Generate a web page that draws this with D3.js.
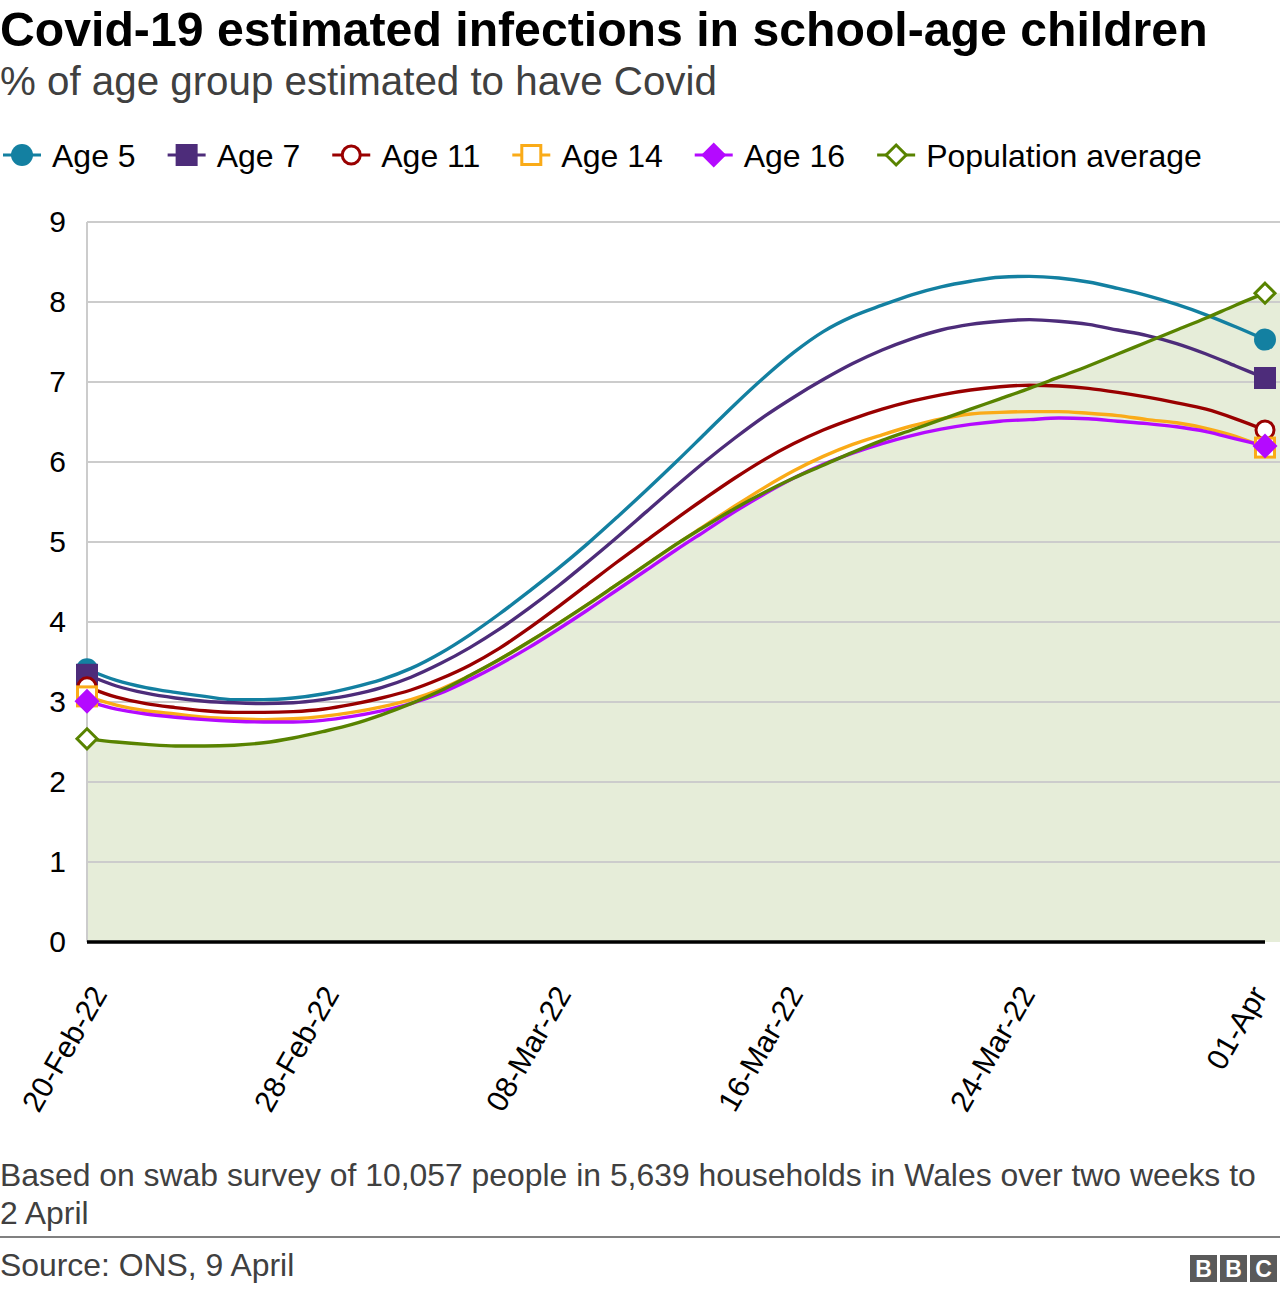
<!DOCTYPE html>
<html><head><meta charset="utf-8">
<script src="https://cdn.jsdelivr.net/npm/d3@7"></script>
<style>
body{margin:0;background:#fff}
svg{display:block}
text{font-family:"Liberation Sans",Arial,Helvetica,sans-serif}
</style>
</head><body>
<svg id="chart" width="1280" height="1292"></svg>
<script>
// ---------- data ----------
const startDate = new Date(2022, 1, 20);
const endDate = new Date(2022, 3, 1);
const dates = d3.timeDay.range(startDate, d3.timeDay.offset(endDate, 1)); // 41 daily points

const age5  = [3.41,3.27,3.18,3.12,3.07,3.03,3.03,3.05,3.10,3.18,3.28,3.42,3.61,3.84,4.10,4.38,4.67,4.98,5.31,5.65,6.00,6.36,6.72,7.06,7.37,7.63,7.82,7.96,8.09,8.19,8.26,8.31,8.32,8.30,8.25,8.17,8.08,7.97,7.84,7.69,7.53];
const age7  = [3.34,3.20,3.11,3.05,3.01,2.99,2.98,2.99,3.03,3.09,3.18,3.31,3.48,3.68,3.91,4.17,4.45,4.75,5.06,5.38,5.70,6.01,6.30,6.57,6.81,7.03,7.23,7.40,7.54,7.65,7.72,7.76,7.78,7.76,7.72,7.65,7.58,7.48,7.35,7.20,7.05];
const age11 = [3.19,3.06,2.98,2.93,2.89,2.87,2.87,2.88,2.91,2.97,3.05,3.15,3.29,3.46,3.67,3.92,4.19,4.47,4.75,5.02,5.29,5.55,5.80,6.03,6.23,6.40,6.54,6.66,6.76,6.84,6.90,6.94,6.96,6.95,6.92,6.87,6.81,6.74,6.66,6.54,6.40];
const age14 = [3.07,2.96,2.89,2.85,2.81,2.79,2.78,2.79,2.82,2.87,2.94,3.03,3.16,3.33,3.53,3.75,3.98,4.22,4.47,4.72,4.97,5.21,5.45,5.68,5.89,6.07,6.22,6.34,6.45,6.54,6.60,6.62,6.63,6.63,6.61,6.58,6.53,6.49,6.42,6.32,6.18];
const age16 = [3.01,2.91,2.85,2.81,2.78,2.76,2.75,2.75,2.77,2.82,2.89,2.98,3.11,3.28,3.47,3.68,3.91,4.15,4.40,4.65,4.90,5.14,5.38,5.60,5.80,5.97,6.11,6.23,6.33,6.41,6.47,6.51,6.53,6.55,6.54,6.51,6.48,6.44,6.38,6.29,6.20];
const popAvg = [2.54,2.50,2.47,2.45,2.45,2.46,2.49,2.55,2.63,2.72,2.84,2.98,3.14,3.33,3.53,3.75,3.98,4.22,4.47,4.72,4.97,5.20,5.42,5.62,5.80,5.96,6.12,6.27,6.40,6.53,6.66,6.79,6.92,7.06,7.20,7.35,7.50,7.65,7.80,7.96,8.11];

const seriesNames  = ["Age 5","Age 7","Age 11","Age 14","Age 16","Population average"];
const seriesColors = ["#1380a1","#4d2c7a","#990000","#faab18","#b40aff","#588300"];
const seriesShapes = ["circle","square","circleOpen","squareOpen","diamond","diamondOpen"];
const seriesValues = [age5, age7, age11, age14, age16, popAvg];

const yTicks = [0,1,2,3,4,5,6,7,8,9];
const xTickIndex  = [0, 8, 16, 24, 32, 40];
const xTickLabels = ["20-Feb-22","28-Feb-22","08-Mar-22","16-Mar-22","24-Mar-22","01-Apr"];

// ---------- layout ----------
const svg = d3.select("#chart");
const W = 1280;
const plot = {left: 87, right: 1265, top: 222, bottom: 942};

const x = d3.scaleTime().domain([startDate, endDate]).range([plot.left, plot.right]);
const y = d3.scaleLinear().domain([0, 9]).range([plot.bottom, plot.top]);

// title
svg.append("text").attr("x", 0).attr("y", 46)
  .attr("font-size", 48.2).attr("font-weight", "bold").attr("fill", "#000")
  .text("Covid-19 estimated infections in school-age children");
svg.append("text").attr("x", 0).attr("y", 95)
  .attr("font-size", 40.3).attr("fill", "#404040")
  .text("% of age group estimated to have Covid");

// marker helper
function marker(g, shape, color, cx, cy) {
  const s = 11;
  if (shape === "circle") {
    g.append("circle").attr("cx", cx).attr("cy", cy).attr("r", s).attr("fill", color);
  } else if (shape === "circleOpen") {
    g.append("circle").attr("cx", cx).attr("cy", cy).attr("r", s - 2)
      .attr("fill", "#fff").attr("stroke", color).attr("stroke-width", 3);
  } else if (shape === "square") {
    g.append("rect").attr("x", cx - s).attr("y", cy - s).attr("width", 2*s).attr("height", 2*s).attr("fill", color);
  } else if (shape === "squareOpen") {
    g.append("rect").attr("x", cx - s + 1.5).attr("y", cy - s + 1.5).attr("width", 2*s - 3).attr("height", 2*s - 3)
      .attr("fill", "#fff").attr("stroke", color).attr("stroke-width", 3);
  } else if (shape === "diamond") {
    const d = s + 1.5;
    g.append("path").attr("d", `M${cx},${cy-d}L${cx+d},${cy}L${cx},${cy+d}L${cx-d},${cy}Z`).attr("fill", color);
  } else if (shape === "diamondOpen") {
    const d = s - 1;
    g.append("path").attr("d", `M${cx},${cy-d}L${cx+d},${cy}L${cx},${cy+d}L${cx-d},${cy}Z`)
      .attr("fill", "#fff").attr("stroke", color).attr("stroke-width", 3);
  }
}

// legend
const legend = svg.append("g");
let lx = 22;
seriesNames.forEach((name, i) => {
  const g = legend.append("g");
  g.append("line").attr("x1", lx - 19).attr("x2", lx + 19).attr("y1", 155).attr("y2", 155)
    .attr("stroke", seriesColors[i]).attr("stroke-width", 3);
  marker(g, seriesShapes[i], seriesColors[i], lx, 155);
  const t = g.append("text").attr("x", lx + 30).attr("y", 166.5)
    .attr("font-size", 32).attr("fill", "#000").text(name);
  lx = lx + 30 + t.node().getComputedTextLength() + 51;
});

// area under population average
const areaData = popAvg.map((v, i) => ({d: dates[i], v}));
const bleed = 15;
const areaGen = d3.area()
  .x((p, i) => i < areaData.length ? x(p.d) : x(endDate) + bleed)
  .y0(y(0)).y1(p => y(p.v));
svg.append("path")
  .datum(areaData.concat([areaData[areaData.length - 1]]))
  .attr("d", areaGen)
  .attr("fill", "#588300").attr("fill-opacity", 0.15);

// gridlines
svg.append("g").selectAll("line").data(yTicks.filter(t => t > 0)).join("line")
  .attr("x1", plot.left).attr("x2", W)
  .attr("y1", d => y(d)).attr("y2", d => y(d))
  .attr("stroke", "#cccccc").attr("stroke-width", 2);

// y axis vertical line
svg.append("line").attr("x1", plot.left).attr("x2", plot.left)
  .attr("y1", y(9)).attr("y2", y(0)).attr("stroke", "#cccccc").attr("stroke-width", 2);

// y tick labels
const yAxis = d3.axisLeft(y).tickValues(yTicks).tickSize(0).tickPadding(21).tickFormat(d3.format("d"));
const yg = svg.append("g").attr("transform", `translate(${plot.left},0)`).call(yAxis);
yg.select(".domain").remove();
yg.selectAll("text").attr("font-size", 30).attr("fill", "#000")
  .attr("font-family", '"Liberation Sans",Arial,sans-serif');

// zero baseline
svg.append("line").attr("x1", plot.left).attr("x2", plot.right)
  .attr("y1", y(0)).attr("y2", y(0)).attr("stroke", "#000").attr("stroke-width", 3.5);

// x tick labels (rotated)
const xLabel = d3.scaleLinear().domain([0, 40]).range([plot.left + 21, plot.right + 3]);
svg.append("g").selectAll("text").data(xTickIndex).join("text")
  .attr("transform", (d) => `translate(${xLabel(d)},994) rotate(-60)`)
  .attr("text-anchor", "end").attr("font-size", 30).attr("fill", "#000")
  .text((d, i) => xTickLabels[i]);

// lines
const lineGen = d3.line().x((v, i) => x(dates[i])).y(v => y(v)).curve(d3.curveMonotoneX);
const linesG = svg.append("g");
seriesValues.forEach((vals, i) => {
  linesG.append("path").datum(vals).attr("d", lineGen)
    .attr("fill", "none").attr("stroke", seriesColors[i]).attr("stroke-width", 3.4)
    .attr("stroke-linejoin", "round");
});

// end markers
const markG = svg.append("g");
seriesValues.forEach((vals, i) => {
  marker(markG, seriesShapes[i], seriesColors[i], x(dates[0]), y(vals[0]));
  marker(markG, seriesShapes[i], seriesColors[i], x(dates[vals.length - 1]), y(vals[vals.length - 1]));
});

// footer
svg.append("text").attr("x", 0).attr("y", 1186).attr("font-size", 31.9).attr("fill", "#404040")
  .text("Based on swab survey of 10,057 people in 5,639 households in Wales over two weeks to");
svg.append("text").attr("x", 0).attr("y", 1224).attr("font-size", 31.9).attr("fill", "#404040")
  .text("2 April");
svg.append("line").attr("x1", 0).attr("x2", W).attr("y1", 1237).attr("y2", 1237)
  .attr("stroke", "#808080").attr("stroke-width", 2);
svg.append("text").attr("x", 0).attr("y", 1276).attr("font-size", 31.9).attr("fill", "#404040")
  .text("Source: ONS, 9 April");

// BBC logo
const logo = svg.append("g");
["B","B","C"].forEach((ch, i) => {
  const bx = 1190 + i * 30;
  logo.append("rect").attr("x", bx).attr("y", 1255).attr("width", 27).attr("height", 27).attr("fill", "#5a5a5a");
  logo.append("text").attr("x", bx + 13.5).attr("y", 1277).attr("text-anchor", "middle")
    .attr("font-size", 23).attr("font-weight", "bold").attr("fill", "#fff").text(ch);
});
</script>
</body></html>
